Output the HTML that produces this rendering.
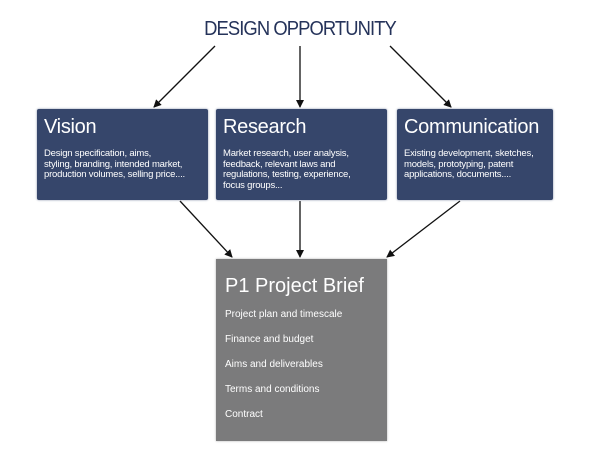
<!DOCTYPE html>
<html><head><style>
body{margin:0;width:600px;height:476px;background:#fff;position:relative;font-family:"Liberation Sans",sans-serif;overflow:hidden}
.b{position:absolute;background:#36466b;border-radius:2px;color:#fff;box-shadow:0 0 2px #8893aa}
.b h2{margin:0;font-weight:normal;font-size:20px;position:absolute;left:7px;top:7px;letter-spacing:-0.3px}
.b p{margin:0;position:absolute;left:7px;top:40px;font-size:9.5px;line-height:10.5px;letter-spacing:-0.2px}
.g{position:absolute;left:216px;top:259px;width:171px;height:182px;background:#7b7b7c;color:#fff;box-shadow:0 0 2px #aaa}
.g h2{margin:0;font-weight:normal;font-size:20px;position:absolute;left:9px;top:16px}
.g div{position:absolute;left:9px;font-size:10px}
.t{position:absolute;left:0;width:600px;top:18px;text-align:center;color:#25335a;font-size:20px;letter-spacing:-1px;transform:scaleX(0.92)}
</style></head><body>
<div class="t">DESIGN OPPORTUNITY</div>
<svg width="600" height="476" style="position:absolute;left:0;top:0">
<defs><marker id="a" markerWidth="8" markerHeight="8" refX="7" refY="4" orient="auto" markerUnits="userSpaceOnUse"><path d="M0,0 L8,4 L0,8 z" fill="#111"/></marker></defs>
<g stroke="#111" stroke-width="1.3" marker-end="url(#a)">
<line x1="215" y1="46" x2="154" y2="107"/>
<line x1="300" y1="46" x2="300" y2="107"/>
<line x1="390" y1="46" x2="451" y2="107"/>
<line x1="180" y1="201" x2="232" y2="257"/>
<line x1="300" y1="201" x2="300" y2="257"/>
<line x1="460" y1="201" x2="387" y2="257"/>
</g></svg>
<div class="b" style="left:37px;top:109px;width:171px;height:91px"><h2>Vision</h2><p>Design specification, aims,<br>styling, branding, intended market,<br>production volumes, selling price....</p></div>
<div class="b" style="left:216px;top:109px;width:171px;height:91px"><h2>Research</h2><p>Market research, user analysis,<br>feedback, relevant laws and<br>regulations, testing, experience,<br>focus groups...</p></div>
<div class="b" style="left:397px;top:109px;width:156px;height:91px"><h2>Communication</h2><p>Existing development, sketches,<br>models, prototyping, patent<br>applications, documents....</p></div>
<div class="g"><h2>P1 Project Brief</h2>
<div style="top:50px">Project plan and timescale</div>
<div style="top:75px">Finance and budget</div>
<div style="top:100px">Aims and deliverables</div>
<div style="top:125px">Terms and conditions</div>
<div style="top:150px">Contract</div></div>
</body></html>
